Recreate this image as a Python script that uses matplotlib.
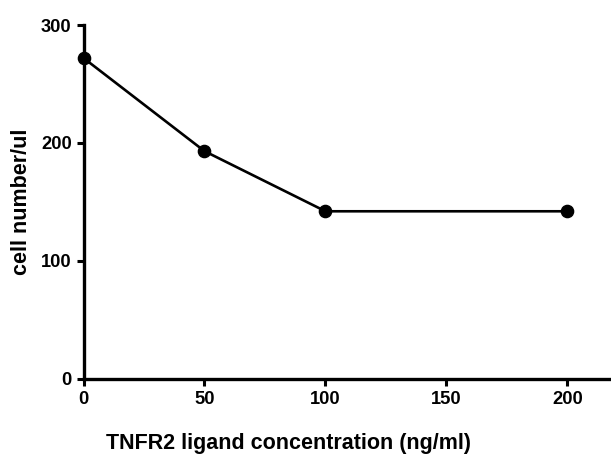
import matplotlib
matplotlib.use('Agg')
import matplotlib.pyplot as plt

plt.rcParams['font.family'] = ['Liberation Sans', 'DejaVu Sans']
plt.rcParams['font.weight'] = 'bold'

concentration = [0, 50, 100, 200]
cell_number = [272, 193, 142, 142]
x_ticks = [0, 50, 100, 150, 200]
y_ticks = [0, 100, 200, 300]

W, H = 611, 455
fig = plt.figure(figsize=(W / 100, H / 100), dpi=100)
ax = fig.add_axes([83.5 / W, (H - 378.7) / H, (W - 83.5) / W, (378.7 - 25) / H])

ax.plot(concentration, cell_number, color='black', linewidth=1.9,
        marker='o', markersize=8.8, clip_on=False, zorder=3)

ax.set_xlim(0, 218)
ax.set_ylim(0, 300)
ax.set_xticks(x_ticks)
ax.set_yticks(y_ticks)

for side in ['top', 'right']:
    ax.spines[side].set_visible(False)
for side in ['left', 'bottom']:
    ax.spines[side].set_linewidth(2.4)
ax.tick_params(direction='out', length=5, width=2.2, labelsize=13.2, pad=3.5)
for lbl in ax.get_xticklabels() + ax.get_yticklabels():
    lbl.set_fontweight('bold')

# axis titles placed where they sit in the original (x title is off-centre)
fig.text(289 / W, 1 - 449 / H, 'TNFR2 ligand concentration (ng/ml)',
         fontsize=15.5, fontweight='bold', ha='center', va='baseline')
fig.text(22 / W, 1 - 202 / H, 'cell number/ul', rotation=90,
         fontsize=15.5, fontweight='bold', ha='center', va='center')

fig.savefig('out.png', dpi=100)
